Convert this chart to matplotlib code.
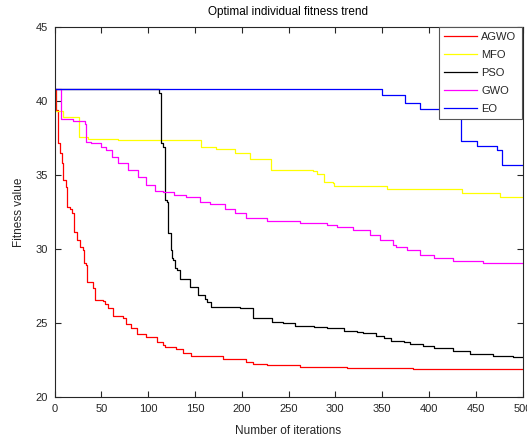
import matplotlib
matplotlib.use("Agg")
import matplotlib.pyplot as plt

plt.rcParams['font.family'] = ['Liberation Sans', 'DejaVu Sans']

# Iteration breakpoints and fitness values (step curves)
agwo_it = [0, 2, 4, 6, 8, 9, 12, 13, 17, 19, 21, 24, 27, 30, 31, 32, 34, 35, 39, 41, 43, 52, 54, 57,
           62, 73, 76, 82, 88, 98, 109, 116, 118, 130, 137, 146, 180, 205, 212, 227, 262, 312, 383, 500]
agwo_val = [40.8, 39.4, 37.14, 36.47, 35.79, 34.66, 34.21, 32.86, 32.7, 32.41, 31.17, 30.6, 30.15, 29.93,
            29.26, 29.03, 28.92, 27.79, 27.75, 27.34, 26.55, 26.5, 26.3, 25.99, 25.47, 25.32, 24.93,
            24.64, 24.26, 24.08, 23.74, 23.51, 23.36, 23.24, 22.95, 22.77, 22.55, 22.35, 22.23, 22.16,
            22.05, 21.94, 21.89, 21.89]

mfo_it = [0, 1, 9, 26, 36, 68, 157, 173, 193, 209, 231, 276, 280, 288, 298, 299, 355, 435, 476, 500]
mfo_val = [40.8, 39.35, 38.95, 37.55, 37.43, 37.36, 36.9, 36.73, 36.46, 36.08, 35.34, 35.3, 35.05,
           34.5, 34.44, 34.26, 34.03, 33.76, 33.53, 33.53]

pso_it = [0, 112, 114, 116, 118, 120, 121, 124, 125, 127, 129, 131, 134, 145, 153, 161, 163, 167, 198,
          212, 220, 232, 244, 257, 277, 291, 309, 323, 330, 344, 352, 359, 373, 380, 394, 405, 426,
          444, 469, 490, 500]
pso_val = [40.8, 40.52, 37.14, 36.91, 33.31, 33.2, 31.06, 29.93, 29.37, 29.26, 28.7, 28.58, 27.95,
           27.46, 26.89, 26.6, 26.44, 26.06, 25.99, 25.36, 25.32, 25.09, 25.02, 24.8, 24.75, 24.64,
           24.48, 24.41, 24.3, 24.12, 23.96, 23.78, 23.74, 23.58, 23.45, 23.29, 23.13, 22.91, 22.77,
           22.72, 22.72]

gwo_it = [0, 7, 20, 33, 34, 39, 50, 55, 61, 68, 78, 89, 98, 107, 116, 128, 141, 155, 166, 182, 193,
          205, 227, 262, 291, 302, 319, 337, 348, 362, 365, 377, 391, 405, 426, 458, 490, 500]
gwo_val = [40.8, 38.76, 38.65, 38.45, 37.25, 37.18, 36.91, 36.69, 36.24, 35.79, 35.34, 34.89, 34.32,
           33.94, 33.87, 33.65, 33.54, 33.2, 33.04, 32.7, 32.41, 32.07, 31.91, 31.73, 31.62, 31.51,
           31.28, 30.95, 30.6, 30.3, 30.11, 29.93, 29.59, 29.37, 29.19, 29.08, 29.03, 29.03]

eo_it = [0, 350, 374, 391, 434, 451, 473, 478, 500]
eo_val = [40.8, 40.41, 39.89, 39.44, 37.3, 36.98, 36.69, 35.68, 35.68]

labels = ['AGWO', 'MFO', 'PSO', 'GWO', 'EO']
colors = ['#ff0000', '#ffff00', '#000000', '#ff00ff', '#0000ff']
xticks = list(range(0, 501, 50))
yticks = [20, 25, 30, 35, 40, 45]

fig = plt.figure(figsize=(5.27, 4.41), dpi=100)
ax = fig.add_axes([54.5 / 527, 1 - 397 / 441, 468 / 527, 370 / 441])

series = [(agwo_it, agwo_val), (mfo_it, mfo_val), (pso_it, pso_val), (gwo_it, gwo_val), (eo_it, eo_val)]
for (xs, ys), lab, c in zip(series, labels, colors):
    ax.plot(xs, ys, drawstyle='steps-post', color=c, lw=0.9, label=lab)

ax.set_xlim(0, 500)
ax.set_ylim(20, 45)
ax.set_xticks(xticks)
ax.set_yticks(yticks)
tc = '#262626'
ax.tick_params(direction='in', top=True, right=True, length=4, width=0.8, colors=tc,
               labelsize=8, pad=5)
for s in ax.spines.values():
    s.set_color(tc)
    s.set_linewidth(0.8)

ax.set_title('Optimal individual fitness trend', fontsize=8.5, color='black', pad=9)
ax.set_xlabel('Number of iterations', fontsize=8.5, color=tc, labelpad=8)
ax.set_ylabel('Fitness value', fontsize=8.5, color=tc, labelpad=7)

leg = ax.legend(loc='upper right', bbox_to_anchor=(0.998, 1.0), borderaxespad=0, fontsize=8,
                fancybox=False, framealpha=1, edgecolor='#555555', handlelength=3.0,
                labelspacing=0.72, borderpad=0.45, handletextpad=0.4)
leg.get_frame().set_linewidth(0.8)
for t in leg.get_texts():
    t.set_color(tc)

fig.savefig('out.png', dpi=100)
